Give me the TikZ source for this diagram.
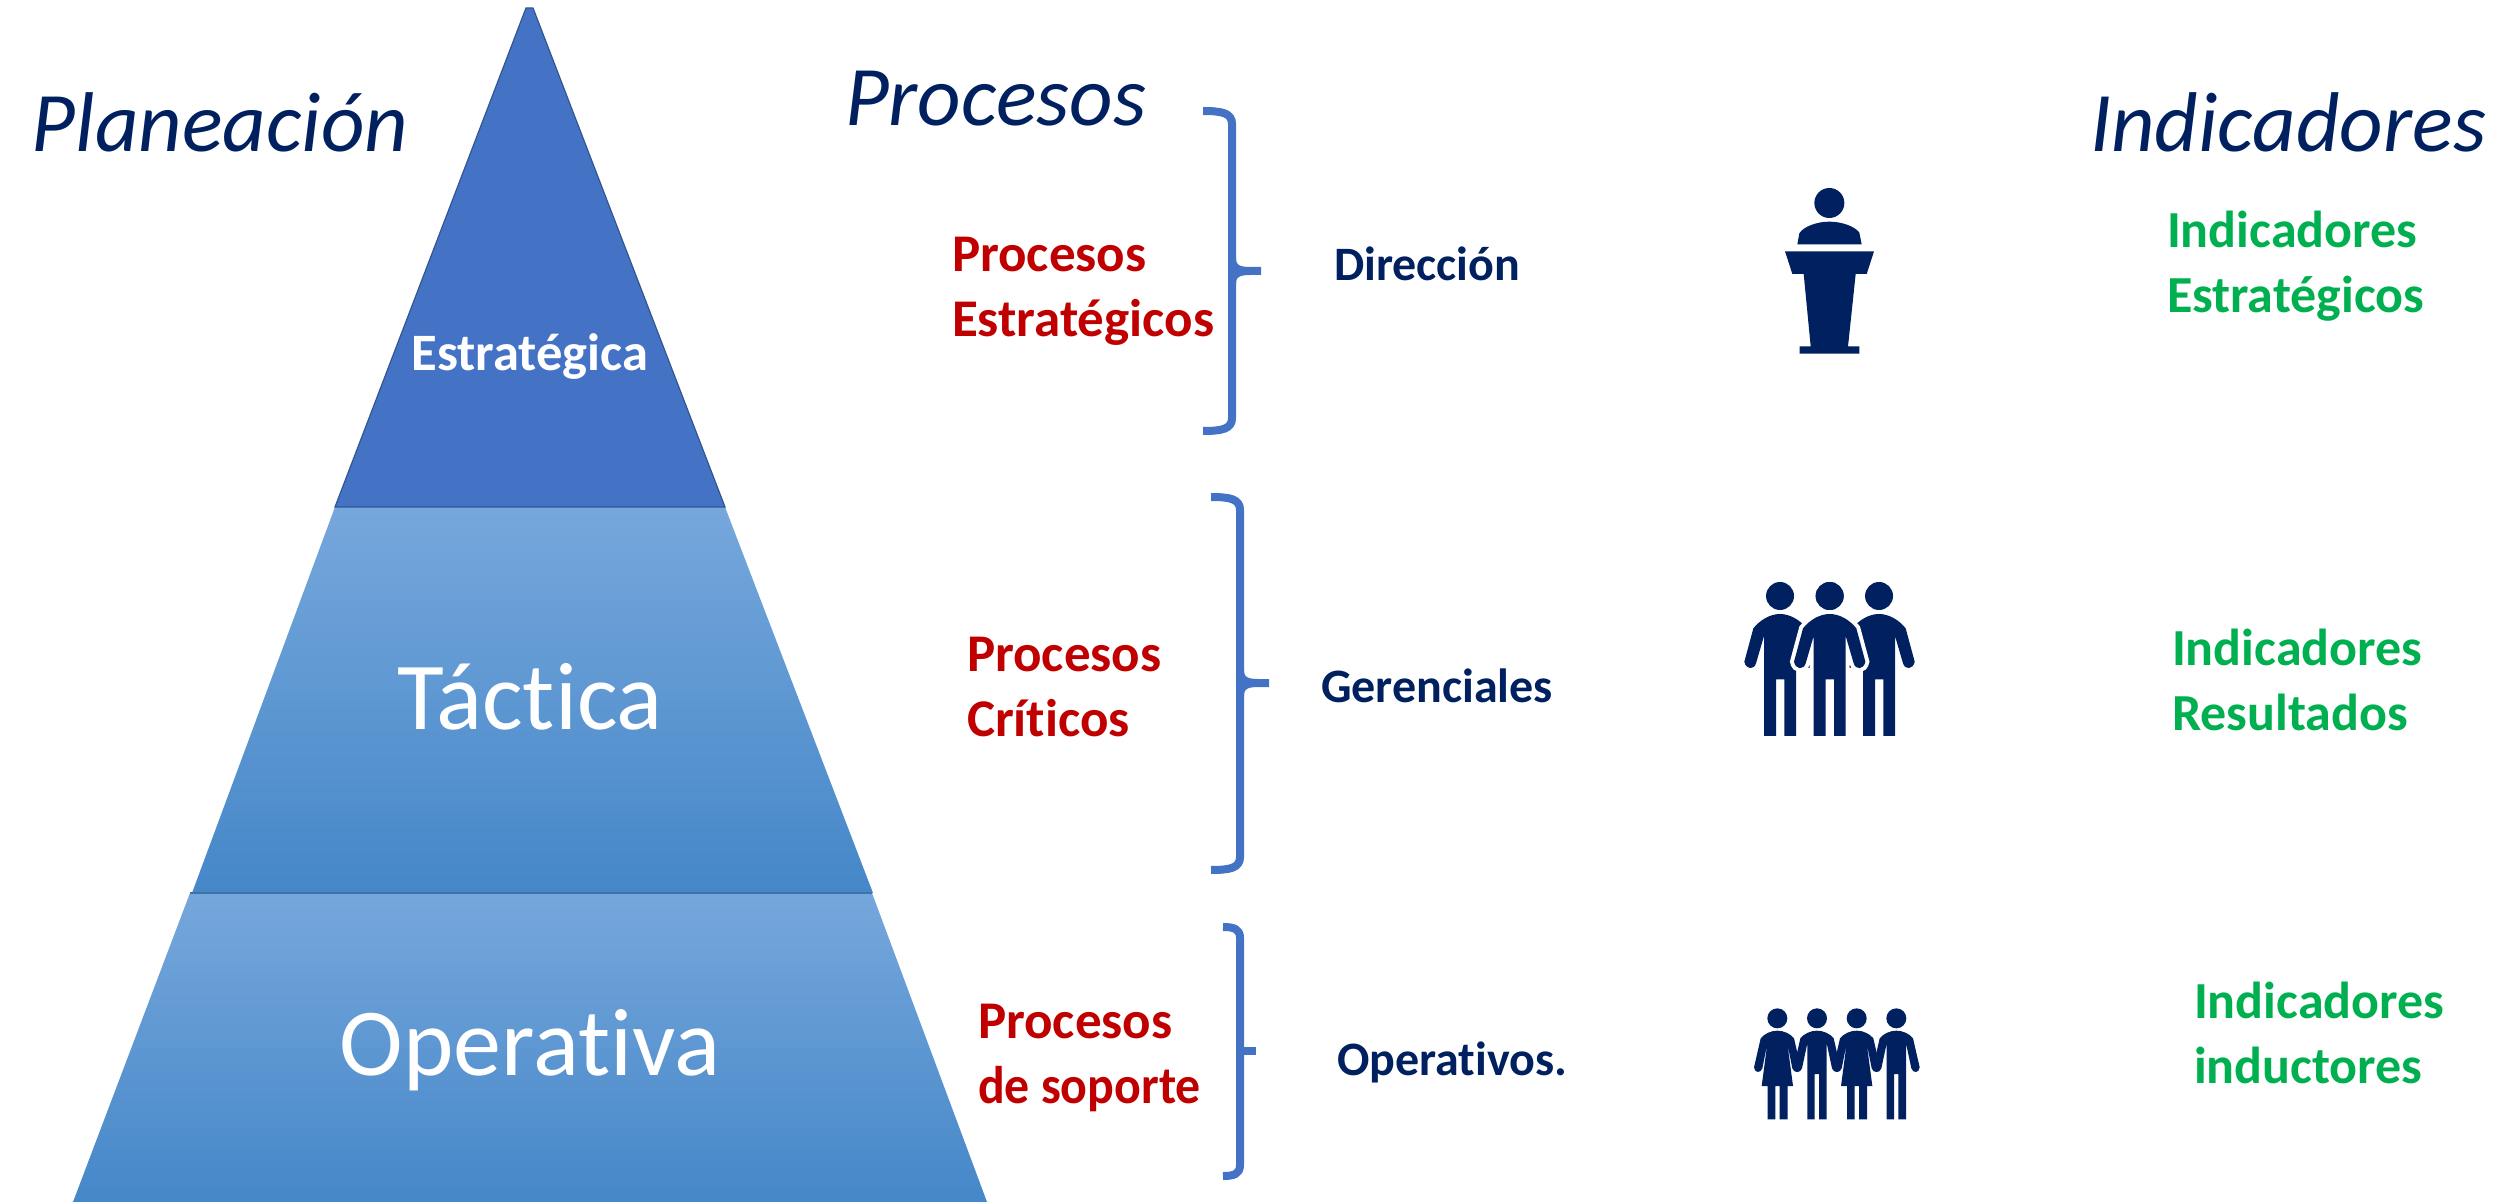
\documentclass[tikz,border=0pt]{standalone}
\usepackage{fontspec}
\setmainfont[Ligatures=NoCommon]{Carlito}
\definecolor{navy}{HTML}{002060}
\definecolor{redt}{HTML}{C00000}
\definecolor{greent}{HTML}{00B050}
\definecolor{brk}{HTML}{4472C4}
\definecolor{ptop}{HTML}{76A7DC}
\definecolor{pmid}{HTML}{5599DD}
\definecolor{pbot}{HTML}{4587C8}
\tikzset{
  txt/.style={inner sep=0pt,outer sep=0pt,anchor=base west},
  title/.style={txt,text=navy,font=\fontsize{42.4}{46}\selectfont\itshape},
  redlab/.style={txt,text=redt,align=left,font=\fontsize{26.5}{32.5}\selectfont\bfseries},
  greenlab/.style={txt,text=greent,align=left,font=\fontsize{26}{32.5}\selectfont\bfseries},
  navylab/.style={txt,text=navy,font=\fontsize{24}{28}\selectfont\bfseries},
  pyrtxt/.style={inner sep=0pt,outer sep=0pt,anchor=base,text=white,font=\fontsize{48}{52}\selectfont},
  bracket/.style={draw=brk,line width=4pt,line cap=butt,line join=round},
  man/.pic={
    \fill[navy] (0,108) circle (42);
    \path[pic actions] (-48,528) -- (-48,228) -- (-72,310)
      .. controls (-78,330) and (-102,330) .. (-107,305)
      -- (-80,205) .. controls (-60,180) and (-30,162) .. (0,162)
      .. controls (30,162) and (60,180) .. (80,205)
      -- (107,305) .. controls (102,330) and (78,330) .. (72,310)
      -- (48,228) -- (48,528) -- (13,528) -- (13,358) -- (-12,358) -- (-12,528) -- cycle;
  },
  smallman/.pic={
    \fill[navy] (0,85) circle (30);
    \fill[navy] (-29,388) -- (-29,160) -- (-45,235)
      .. controls (-50,250) and (-68,250) .. (-70,232)
      -- (-50,145) .. controls (-40,132) and (-20,122) .. (0,122)
      .. controls (20,122) and (40,132) .. (50,145)
      -- (70,232) .. controls (68,250) and (50,250) .. (45,235)
      -- (29,160) -- (29,388) -- (6,388) -- (6,252) -- (-7,252) -- (-7,388) -- cycle;
  },
  smallwoman/.pic={
    \fill[navy] (0,85) circle (30);
    \fill[navy] (-29,388) -- (-29,288) -- (-47,288) -- (-30,160) -- (-45,235)
      .. controls (-50,250) and (-68,250) .. (-70,232)
      -- (-50,145) .. controls (-40,132) and (-20,122) .. (0,122)
      .. controls (20,122) and (40,132) .. (50,145)
      -- (70,232) .. controls (68,250) and (50,250) .. (45,235)
      -- (30,160) -- (47,288) -- (31,288) -- (31,388) -- (7,388) -- (7,288) -- (-6,288) -- (-6,388) -- cycle;
  }
}
\begin{document}
\begin{tikzpicture}[x=0.5pt,y=-0.5pt]
\useasboundingbox (0,0) rectangle (2514,1202);
% pyramid
\shade[top color=ptop,middle color=pmid,bottom color=pbot] (335,507) -- (725,507) -- (873,893) -- (192,893) -- cycle;
\shade[top color=ptop,middle color=pmid,bottom color=pbot] (190,893) -- (872,893) -- (987,1202) -- (73,1202) -- cycle;
\draw[pbot!85!black,line width=0.8pt] (190,893) -- (872,893);
\fill[brk,draw=brk!75!black,line width=0.6pt] (526,8) -- (533,8) -- (725,507) -- (335,507) -- cycle;
\node[pyrtxt] (tact) at (530,729) {Táctica};
\node[pyrtxt] (oper) at (530,1075) {Operativa};
\node[pyrtxt,font=\fontsize{26.3}{30}\selectfont\bfseries] (estr) at (530,371) {Estratégica};
% titles
\node[title] (plan) at (32,152) {Planeación};
\node[title] (proc) at (845,126) {Procesos};
\node[title] (indi) at (2090,152) {Indicadores};
% red labels
\node[redlab] (r1) at (952,337) {Procesos\\Estratégicos};
\node[redlab] (r2) at (967,736) {Procesos\\Críticos};
\node[redlab] (r3) at (978,1103) {Procesos\\\scalebox{0.94}[1]{de soporte}};
% navy labels
\node[navylab] (n1) at (1334,281) {Dirección};
\node[navylab] (n2) at (1321,702) {Gerenciales};
\node[navylab] (n3) at (1337,1075) {Operativos.};
% green labels
\node[greenlab] (g1) at (2167,313) {Indicadores\\Estratégicos};
\node[greenlab] (g2) at (2172,730) {Indicadores\\Resultados};
\node[greenlab] (g3) at (2194,1083) {Indicadores\\inductores};
% brackets
\draw[bracket] (1203,111) .. controls (1222,111) and (1232,113) .. (1232,124) -- (1232,418)
  .. controls (1232,429) and (1222,431) .. (1203,431);
\draw[bracket] (1232,258) .. controls (1232,268) and (1238,271) .. (1250,271) -- (1261,271);
\draw[bracket] (1232,284) .. controls (1232,274) and (1238,271) .. (1250,271);
\draw[bracket] (1211,497) .. controls (1230,497) and (1240,499) .. (1240,510) -- (1240,857)
  .. controls (1240,868) and (1230,870) .. (1211,870);
\draw[bracket] (1240,670) .. controls (1240,680) and (1246,683) .. (1258,683) -- (1269,683);
\draw[bracket] (1240,696) .. controls (1240,686) and (1246,683) .. (1258,683);
\draw[bracket] (1223,927) .. controls (1234,927) and (1240,929) .. (1240,938) -- (1240,1165)
  .. controls (1240,1174) and (1234,1176) .. (1223,1176);
\draw[bracket] (1240,1051) -- (1256,1051);
% podium
\begin{scope}[shift={(1700,150)},scale=1/3]
\fill[navy] (388,159) circle (45);
\fill[navy] (292,283) -- (298,250) .. controls (310,230) and (350,215) .. (388,215)
  .. controls (426,215) and (466,230) .. (478,248) -- (485,283) -- cycle;
\fill[navy] (255,304) -- (522,304) -- (500,372) -- (467,372) -- (444,589) -- (478,589)
  -- (478,611) -- (299,611) -- (299,589) -- (332,589) -- (311,372) -- (277,372) -- cycle;
\end{scope}
% three people
\begin{scope}[shift={(1700,560)},scale=1/3]
\pic[transform shape,fill=navy] at (240,0) {man};
\pic[transform shape,fill=navy] at (537,0) {man};
\pic[transform shape,draw=white,line width=4pt] at (389,0) {man};
\pic[transform shape,fill=navy] at (389,0) {man};
\end{scope}
% four people
\begin{scope}[shift={(1720,990)},scale=1/3]
\pic[transform shape] at (172,0) {smallwoman};
\pic[transform shape] at (291,0) {smallman};
\pic[transform shape] at (410,0) {smallwoman};
\pic[transform shape] at (529,0) {smallman};
\end{scope}
\end{tikzpicture}
\end{document}
